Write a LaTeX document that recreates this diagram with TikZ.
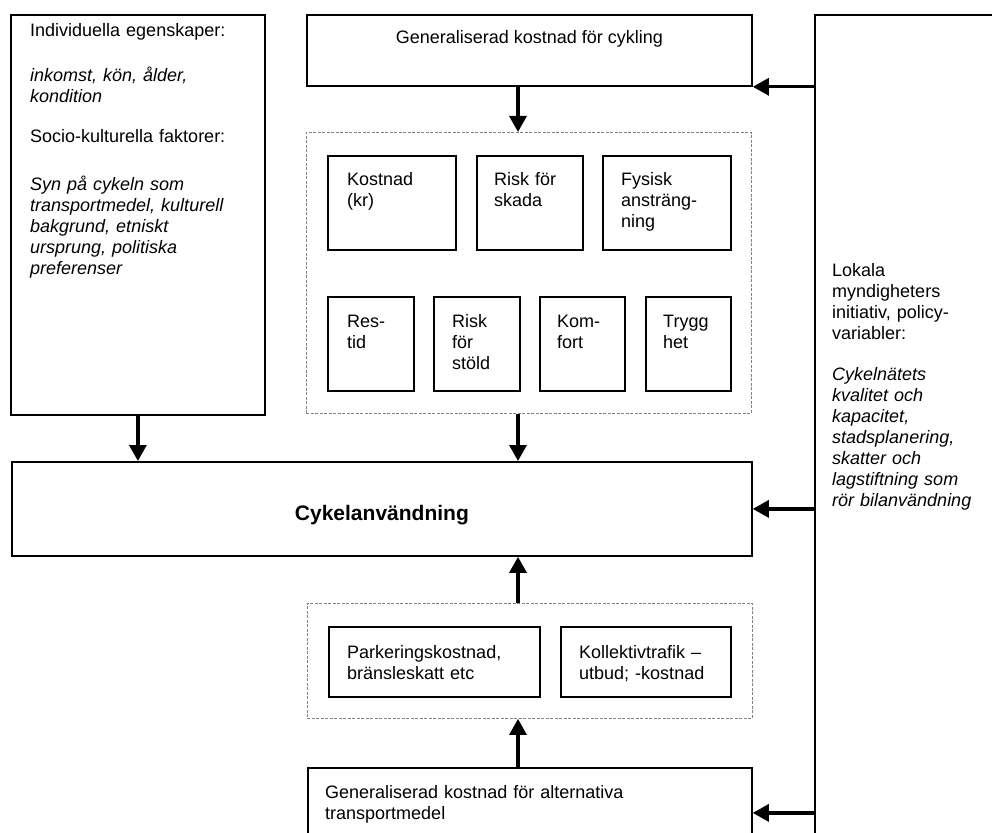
\documentclass[tikz,border=0pt]{standalone}
\usepackage{fontspec}
\setmainfont{Liberation Sans}
\usetikzlibrary{arrows.meta}

\tikzset{
  box/.style={draw, line width=1.8pt, anchor=north west, inner sep=0pt},
  gbox/.style={draw=black!50, line width=0.9pt, dash pattern=on 3pt off 1.5pt, anchor=north west, inner sep=0pt},
  arr/.style={line width=3.2pt, -{Triangle[width=17pt,length=16pt]}},
  txt/.style={anchor=base west, align=left, inner sep=0pt, text width=#1, font=\fontsize{18}{21}\selectfont},
  txt/.default=200pt
}

\begin{document}
\begin{tikzpicture}[x=1pt,y=-1pt]
		\useasboundingbox (0,0) rectangle (992,832);
		
		% outer boxes
		\node[box, minimum width=254pt, minimum height=400pt] (indiv) at (10,14) {};
		\node[box, minimum width=445pt, minimum height=71pt] (cyk) at (306,14) {};
		\node[box, minimum width=200pt, minimum height=840pt] (lokal) at (814,14) {};
		\node[gbox, minimum width=445pt, minimum height=281pt] (fakt) at (306,132) {};
		\node[box, minimum width=740pt, minimum height=94pt] (anv) at (11,461) {};
		\node[gbox, minimum width=445pt, minimum height=115pt] (alt) at (307,603) {};
		\node[box, minimum width=444pt, minimum height=90pt] (altk) at (307,767) {};
		
		% factor boxes
		\node[box, minimum width=128pt, minimum height=94pt] (kost) at (327,155) {};
		\node[box, minimum width=106pt, minimum height=94pt] (skada) at (476,155) {};
		\node[box, minimum width=128pt, minimum height=94pt] (fys) at (602,155) {};
		\node[box, minimum width=86pt, minimum height=94pt] (restid) at (327,296) {};
		\node[box, minimum width=86pt, minimum height=94pt] (stold) at (433,296) {};
		\node[box, minimum width=85pt, minimum height=94pt] (komf) at (539,296) {};
		\node[box, minimum width=85pt, minimum height=94pt] (trygg) at (645,296) {};
		\node[box, minimum width=211pt, minimum height=70pt] (park) at (328,626) {};
		\node[box, minimum width=170pt, minimum height=70pt] (koll) at (560,626) {};
		
		% texts
		\node[txt=225pt] (t-indiv) at ([shift={(20,23)}]indiv.north west) {Individuella egenskaper:\\[24pt]
			{\itshape inkomst, kön, ålder,\\ kondition}\\[19pt]
			Socio-kulturella faktorer:\\[27pt]
			{\itshape Syn på cykeln som\\ transportmedel, kulturell\\ bakgrund, etniskt\\ ursprung, politiska\\ preferenser}};
		\node[anchor=base, inner sep=0pt, font=\fontsize{18}{21}\selectfont] (t-cyk) at ([shift={(0,30)}]cyk.north) {Generaliserad kostnad för cykling};
		\node[txt=170pt] (t-lokal) at ([shift={(18,262)}]lokal.north west) {Lokala\\ myndigheters\\ initiativ, policy-\\ variabler:\\[20pt]
			{\itshape Cykelnätets\\ kvalitet och\\ kapacitet,\\ stadsplanering,\\ skatter och\\ lagstiftning som\\ rör bilanvändning}};
		\node[txt=105pt] (t-kost) at ([shift={(20,30)}]kost.north west) {Kostnad\\ (kr)};
		\node[txt=85pt] (t-skada) at ([shift={(18,30)}]skada.north west) {Risk för\\ skada};
		\node[txt=105pt] (t-fys) at ([shift={(19,30)}]fys.north west) {Fysisk\\ ansträng-\\ ning};
		\node[txt=65pt] (t-restid) at ([shift={(20,31)}]restid.north west) {Res-\\ tid};
		\node[txt=65pt] (t-stold) at ([shift={(19,31)}]stold.north west) {Risk\\ för\\ stöld};
		\node[txt=65pt] (t-komf) at ([shift={(18,31)}]komf.north west) {Kom-\\ fort};
		\node[txt=65pt] (t-trygg) at ([shift={(18,31)}]trygg.north west) {Trygg\\ het};
		\node[anchor=base, inner sep=0pt, font=\fontsize{21}{25}\selectfont\bfseries] (t-anv) at ([shift={(0,12)}]anv.center) {Cykelanvändning};
		\node[txt=190pt] (t-park) at ([shift={(19,32)}]park.north west) {Parkeringskostnad,\\ bränsleskatt etc};
		\node[txt=150pt] (t-koll) at ([shift={(19,32)}]koll.north west) {Kollektivtrafik –\\ utbud; -kostnad};
		\node[txt=400pt] (t-altk) at ([shift={(18,31)}]altk.north west) {Generaliserad kostnad för alternativa\\ transportmedel};
		
		% arrows
		\coordinate (mid) at (518,0);
		\draw[arr] (mid |- cyk.south) -- (mid |- fakt.north);
		\draw[arr] (mid |- fakt.south) -- (mid |- anv.north);
		\draw[arr] (mid |- alt.north) -- (mid |- anv.south);
		\draw[arr] (mid |- altk.north) -- (mid |- alt.south);
		\draw[arr] (indiv.south) -- (indiv.south |- anv.north);
		\draw[arr] (lokal.west |- cyk.south east) -- (cyk.south east);
		\draw[arr] (lokal.west |- anv.east) -- (anv.east);
		\draw[arr] (lokal.west |- altk.east) -- (altk.east);
\end{tikzpicture}
\end{document}
